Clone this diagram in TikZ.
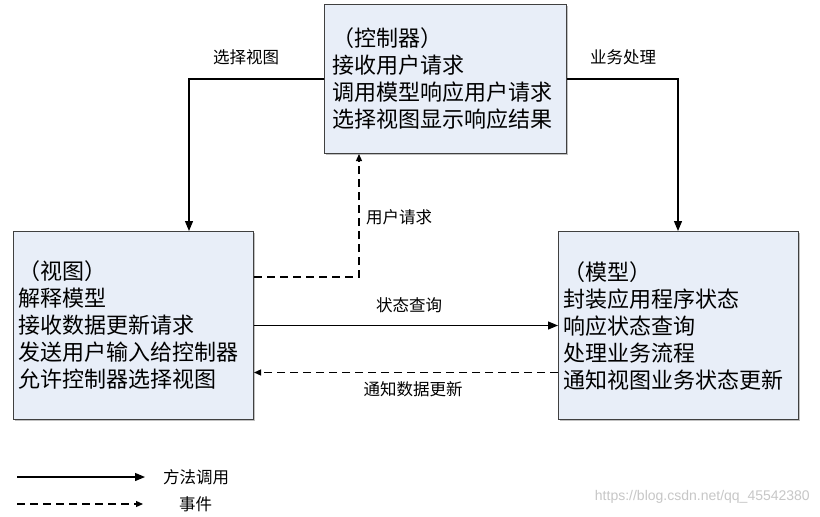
\documentclass[tikz,border=0pt]{standalone}
\usepackage{fontspec}
\newfontfamily\cjk{Noto Sans CJK SC}
\newfontfamily\wm{Liberation Sans}
\usetikzlibrary{arrows.meta,shadows,calc}
\definecolor{boxfill}{HTML}{E8EEF8}
\definecolor{boxline}{HTML}{404040}
\begin{document}
\begin{tikzpicture}[x=1pt,y=-1pt,
  box/.style={draw=boxline, line width=1pt, fill=boxfill, anchor=north west, align=left,
    inner ysep=0pt, font=\cjk\fontsize{22pt}{27pt}\selectfont,
    drop shadow={shadow xshift=1.2pt, shadow yshift=-1.2pt, fill=black!40, opacity=0.6}},
  call/.style={line width=1.2pt, -{Triangle[length=10pt,width=8pt]}},
  event/.style={line width=1.2pt, dash pattern=on 8pt off 5pt, -{Triangle[length=7pt,width=6pt]}},
  lbl/.style={font=\cjk\fontsize{16.5pt}{20pt}\selectfont, inner sep=0pt},
]
\useasboundingbox[fill=white] (0,0) rectangle (820,517);

\node[box, text width=226pt, inner xsep=8pt, minimum width=242pt, minimum height=149pt] (ctrl) at (324,4)
  {（控制器）\\接收用户请求\\调用模型响应用户请求\\选择视图显示响应结果};
\node[box, text width=230pt, inner xsep=5pt, minimum width=240pt, minimum height=188pt] (view) at (13,231)
  {（视图）\\解释模型\\接收数据更新请求\\发送用户输入给控制器\\允许控制器选择视图};
\node[box, text width=230pt, inner xsep=5pt, minimum width=240pt, minimum height=188pt] (model) at (558,231)
  {（模型）\\封装应用程序状态\\响应状态查询\\处理业务流程\\通知视图业务状态更新};

% connectors
\draw[call] (ctrl.west) -| ([xshift=176pt]view.north west);
\draw[call] (ctrl.east) -| ([xshift=120pt]model.north west);
\draw[event] ([yshift=-46pt]view.north east) -| ([xshift=35pt]ctrl.south west);
\draw[call] (view.east) -- (model.west);
\draw[event] ([yshift=-47pt]model.west) -- ([yshift=-47pt]view.east);

% labels
\node[lbl] (l1) at (246,57) {选择视图};
\node[lbl] (l2) at (623,57) {业务处理};
\node[lbl, anchor=west] (l3) at (366,217) {用户请求};
\node[lbl] (l4) at (409,305) {状态查询};
\node[lbl] (l5) at (413,389) {通知数据更新};

% legend
\coordinate (a1) at (17,477);
\coordinate (a2) at (145,477);
\coordinate (b1) at (17,504);
\coordinate (b2) at (143,504);
\draw[call] (a1) -- (a2);
\draw[event] (b1) -- (b2);
\node[lbl, anchor=west] (t1) at (163,477) {方法调用};
\node[lbl, anchor=west] (t2) at (179,504) {事件};

% watermark
\node[font=\wm\fontsize{14pt}{16pt}\selectfont, text=black!22, anchor=east, inner sep=0pt] (wm) at (810,497) {https://blog.csdn.net/qq\_45542380};
\end{tikzpicture}
\end{document}
